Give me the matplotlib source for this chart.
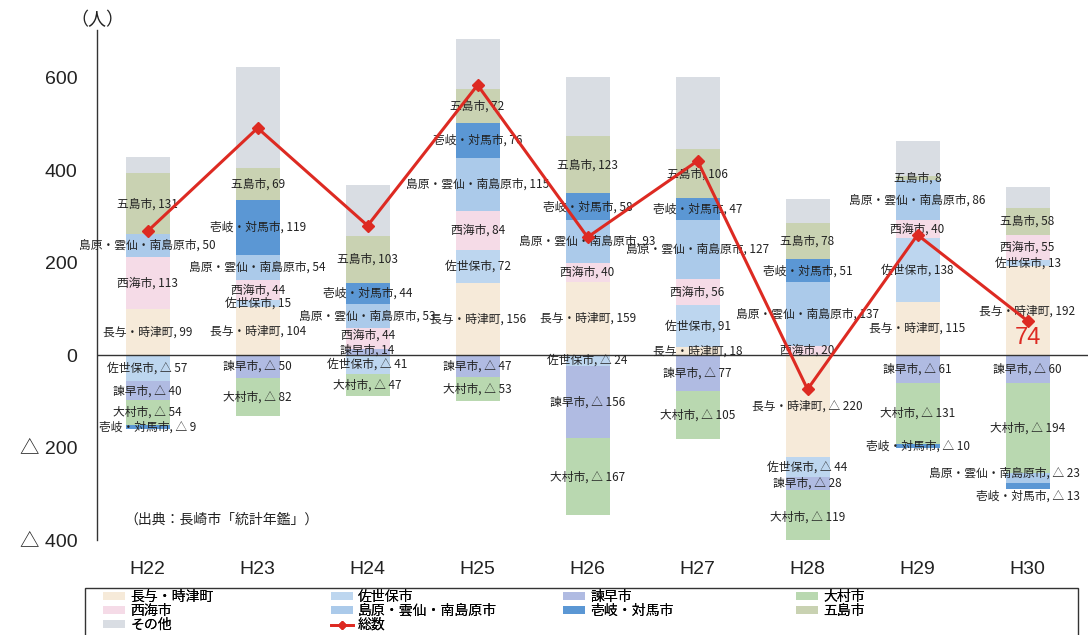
import matplotlib
matplotlib.use("Agg")
import matplotlib.pyplot as plt
import numpy as np
from matplotlib.patches import Patch, Rectangle
from matplotlib.lines import Line2D

plt.rcParams['font.family'] = ['Noto Sans CJK JP', 'DejaVu Sans']

years = ["H22", "H23", "H24", "H25", "H26", "H27", "H28", "H29", "H30"]

# series in stacking order
nagayo   = [99, 104, 0, 156, 159, 18, -220, 115, 192]     # 長与・時津町
sasebo   = [-57, 15, -41, 72, -24, 91, -44, 138, 13]      # 佐世保市
isahaya  = [-40, -50, 14, -47, -156, -77, -28, -61, -60]  # 諫早市
omura    = [-54, -82, -47, -53, -167, -105, -119, -131, -194]  # 大村市
saikai   = [113, 44, 44, 84, 40, 56, 20, 40, 55]          # 西海市
shimabara = [50, 54, 53, 115, 93, 127, 137, 86, -23]      # 島原・雲仙・南島原市
iki      = [-9, 119, 44, 76, 58, 47, 51, -10, -13]        # 壱岐・対馬市
goto     = [131, 69, 103, 72, 123, 106, 78, 8, 58]        # 五島市
other    = [35, 218, 110, 109, 129, 157, 51, 75, 46]      # その他
totals   = [268, 491, 280, 584, 255, 420, -74, 260, 74]   # 総数

series_names = ["長与・時津町", "佐世保市", "諫早市", "大村市", "西海市",
                "島原・雲仙・南島原市", "壱岐・対馬市", "五島市", "その他"]
series_vals = [nagayo, sasebo, isahaya, omura, saikai, shimabara, iki, goto, other]
colors = {
    "長与・時津町": "#f6ead9",
    "佐世保市": "#bdd6ef",
    "諫早市": "#b0bbe2",
    "大村市": "#b9d8b0",
    "西海市": "#f5dbe7",
    "島原・雲仙・南島原市": "#abcaea",
    "壱岐・対馬市": "#5b97d4",
    "五島市": "#c9d2b2",
    "その他": "#d9dde3",
}
# label nudges (x in category units, y in data units) for crowded segments
label_nudge = {
    (8, "島原・雲仙・南島原市"): (-0.21, 10),
    (8, "壱岐・対馬市"): (0.0, -22),
    (2, "諫早市"): (0.0, 4),
    (2, "西海市"): (0.0, 8),
}

fig = plt.figure(figsize=(10.88, 6.35), dpi=100)
ax = fig.add_axes([0.0892, 0.1496, 0.9108, 0.8031])

x = np.arange(len(years))
width = 0.40
pos_base = np.zeros(len(years))
neg_base = np.zeros(len(years))

for name, vals in zip(series_names, series_vals):
    v = np.array(vals, dtype=float)
    pos = np.where(v > 0, v, 0)
    neg = np.where(v < 0, v, 0)
    ax.bar(x, pos, width, bottom=pos_base, color=colors[name], edgecolor='none', zorder=1)
    ax.bar(x, neg, width, bottom=neg_base, color=colors[name], edgecolor='none', zorder=1)
    if name != "その他":
        for i, val in enumerate(v):
            if val > 0:
                yc = pos_base[i] + val / 2
                txt = f"{name}, {int(val)}"
            elif val < 0:
                yc = neg_base[i] + val / 2
                txt = f"{name}, △ {int(-val)}"
            else:
                continue
            dx, dy = label_nudge.get((i, name), (0.0, 0.0))
            ax.text(x[i] + dx, yc + dy, txt, ha='center', va='center', fontsize=8.5,
                    color='#222222', zorder=3)
    pos_base += pos
    neg_base += neg

ax.plot(x, totals, color='#dd2a22', linewidth=2.2, marker='D', markersize=6,
        zorder=4)
ax.text(x[-1], totals[-1] - 37, f"{totals[-1]}", color='#dd2a22', fontsize=17,
        family=['Liberation Sans', 'DejaVu Sans'],
        ha='center', va='center', zorder=5)

ax.axhline(0, color='#333333', linewidth=1.0, zorder=2)

ax.set_xlim(-0.46, 8.55)
ax.set_ylim(-400, 703)
yt = [600, 400, 200, 0, -200, -400]
ax.set_yticks(yt)
ax.set_yticklabels(["600", "400", "200", "0", "△ 200", "△ 400"])
for t in ax.get_yticklabels():
    t.set_fontfamily(['Liberation Sans', 'Noto Sans CJK JP'])
    t.set_fontsize(14)
    t.set_color('#222222')
ax.tick_params(axis='y', length=0, pad=14)
ax.set_xticks(x)
ax.set_xticklabels(years)
for t in ax.get_xticklabels():
    t.set_fontfamily(['Liberation Sans', 'Noto Sans CJK JP'])
    t.set_fontsize(14)
    t.set_color('#222222')
ax.tick_params(axis='x', length=0, pad=15)
for s in ["top", "right", "bottom"]:
    ax.spines[s].set_visible(False)
ax.spines["left"].set_color('#333333')
ax.spines["left"].set_linewidth(1.0)

fig.text(0.09, 0.968, "（人）", fontsize=13, ha='center', va='center', color='#222222')
ax.text(-0.21, -357, "（出典：長崎市「統計年鑑」）", fontsize=10, ha='left',
        va='center', color='#222222')

# legend: four single-column legends inside one frame
handle_map = {n: Patch(facecolor=colors[n], edgecolor='none') for n in series_names}
total_handle = Line2D([], [], color='#dd2a22', marker='D', markersize=4, linewidth=2)
columns = [
    ["長与・時津町", "西海市", "その他"],
    ["佐世保市", "島原・雲仙・南島原市", "総数"],
    ["諫早市", "壱岐・対馬市"],
    ["大村市", "五島市"],
]
col_x = [103, 331, 563, 796]
for cx, names in zip(col_x, columns):
    hs = [total_handle if n == "総数" else handle_map[n] for n in names]
    lg = fig.legend(hs, names, loc='upper left',
                    bbox_to_anchor=(cx / 1088, 1 - 590 / 635),
                    ncol=1, fontsize=10, frameon=False,
                    borderpad=0, labelspacing=0.0, handlelength=1.6,
                    handleheight=0.5, handletextpad=0.35, borderaxespad=0)
    fig.add_artist(lg)
fig.add_artist(Rectangle((85 / 1088, -0.02), (1078 - 85) / 1088, 0.02 + (635 - 588) / 635,
                         transform=fig.transFigure, fill=False,
                         edgecolor='#333333', linewidth=1.0))

fig.savefig("out.png", dpi=100)
